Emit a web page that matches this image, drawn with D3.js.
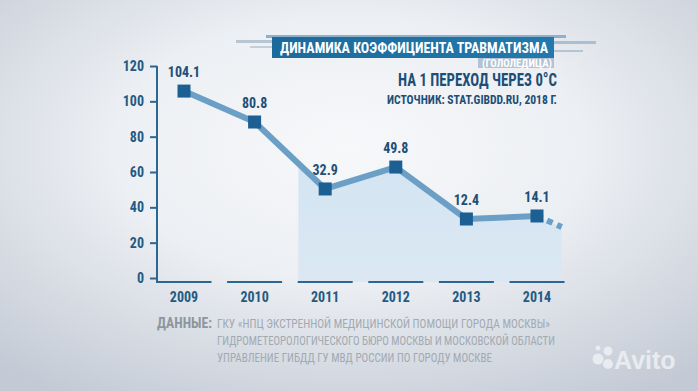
<!DOCTYPE html>
<html><head><meta charset="utf-8">
<script src="https://cdn.jsdelivr.net/npm/d3@7"></script>
<style>
html,body{margin:0;padding:0;overflow:hidden;background:#e3e7ed;}
svg{display:block;}
</style></head>
<body>
<svg id="c" width="698" height="391"></svg>
<script>
const years = ["2009","2010","2011","2012","2013","2014"];
const values = [105.8, 88.3, 50.4, 62.8, 33.4, 35.1];
const valueLabels = ["104.1","80.8","32.9","49.8","12.4","14.1"];
const tailValue = 28.9;
const yTicks = [0,20,40,60,80,100,120];
const titleText = "ДИНАМИКА КОЭФФИЦИЕНТА ТРАВМАТИЗМА";
const subTitle = "(ГОЛОЛЕДИЦА)";
const unitText = "НА 1 ПЕРЕХОД ЧЕРЕЗ 0°C";
const sourceText = "ИСТОЧНИК: STAT.GIBDD.RU, 2018 Г.";
const dataHead = "ДАННЫЕ:";
const dataLines = [
  "ГКУ «НПЦ ЭКСТРЕННОЙ МЕДИЦИНСКОЙ ПОМОЩИ ГОРОДА МОСКВЫ»",
  "ГИДРОМЕТЕОРОЛОГИЧЕСКОГО БЮРО МОСКВЫ И МОСКОВСКОЙ ОБЛАСТИ",
  "УПРАВЛЕНИЕ ГИБДД ГУ МВД РОССИИ ПО ГОРОДУ МОСКВЕ"
];

const FONT = "'Liberation Sans Narrow','Roboto Condensed','Liberation Sans',sans-serif";
const svg = d3.select("#c");
const W = 698, H = 391;
const defs = svg.append("defs");
function fit(sel, w){ sel.attr("textLength", w).attr("lengthAdjust","spacingAndGlyphs"); return sel; }

// background
const bg = defs.append("radialGradient").attr("id","bg")
  .attr("cx","0.5").attr("cy","0.38").attr("r","0.75");
bg.append("stop").attr("offset","0").attr("stop-color","#f7f8fa");
bg.append("stop").attr("offset","0.45").attr("stop-color","#eceff3");
bg.append("stop").attr("offset","1").attr("stop-color","#c3cad5");
svg.append("rect").attr("width",W).attr("height",H).attr("fill","url(#bg)");

const x = d3.scalePoint().domain(years).range([184, 537]);
const y = d3.scaleLinear().domain([0,120]).range([278, 66]);
const step = x.step();

// decorative title stripes
const tg = svg.append("g");
tg.append("rect").attr("x",236).attr("y",40).attr("width",36).attr("height",3).attr("fill","#b8c6d4");
tg.append("rect").attr("x",250).attr("y",46).attr("width",22).attr("height",2).attr("fill","#c3cfdb");
tg.append("rect").attr("x",266).attr("y",35).attr("width",300).attr("height",3).attr("fill","#8fb0cb");
tg.append("rect").attr("x",548).attr("y",41).attr("width",48).attr("height",3).attr("fill","#a9bfd2");
tg.append("rect").attr("x",553).attr("y",50).attr("width",30).attr("height",2).attr("fill","#b4c6d6");
const tgrad = defs.append("linearGradient").attr("id","tg").attr("x1",0).attr("x2",1);
tgrad.append("stop").attr("offset",0).attr("stop-color","#1c6a9b");
tgrad.append("stop").attr("offset",1).attr("stop-color","#2379ad");
tg.append("rect").attr("x",272).attr("y",37).attr("width",282).attr("height",21).attr("fill","url(#tg)");
fit(tg.append("text").attr("x",280).attr("y",53)
  .attr("font-family",FONT).attr("font-weight","bold").attr("font-size",15.5)
  .attr("fill","#ffffff").text(titleText), 268);
tg.append("rect").attr("x",478).attr("y",58).attr("width",76).attr("height",10).attr("fill","#b3c3d3");
fit(tg.append("text").attr("x",482).attr("y",67)
  .attr("font-family",FONT).attr("font-weight","bold").attr("font-size",10.5)
  .attr("fill","#ffffff").text(subTitle), 70);
fit(tg.append("text").attr("x",398).attr("y",86)
  .attr("font-family",FONT).attr("font-weight","bold").attr("font-size",17.5)
  .attr("fill","#1c4f78").text(unitText), 159);
fit(tg.append("text").attr("x",387).attr("y",104)
  .attr("font-family",FONT).attr("font-weight","bold").attr("font-size",12)
  .attr("fill","#1c4f78").text(sourceText), 170);

// area
const pts = years.map((d,i)=>[x(d), y(values[i])]);
const tailPt = [x(years[5]) + step*0.35, y(tailValue)];
const areaPts = pts.concat([tailPt]);
defs.append("clipPath").attr("id","ac").append("rect")
  .attr("x", x(years[2]) - step*0.38).attr("y",0)
  .attr("width", tailPt[0] - (x(years[2]) - step*0.38)).attr("height",H);
const agrad = defs.append("linearGradient").attr("id","ag").attr("x1",0).attr("x2",0).attr("y1",0).attr("y2",1);
agrad.append("stop").attr("offset",0).attr("stop-color","#cfe2f1");
agrad.append("stop").attr("offset",1).attr("stop-color","#dbe8f3");
svg.append("path").attr("clip-path","url(#ac)")
  .attr("d", d3.area().x(d=>d[0]).y0(y(0)+4).y1(d=>d[1])(areaPts))
  .attr("fill","url(#ag)");

// axis
const axisColor = "#2b6790";
const ag = svg.append("g").attr("transform","translate(157,0)");
ag.call(d3.axisLeft(y).tickValues(yTicks).tickSize(7).tickPadding(6))
  .call(g=>g.select(".domain").remove())
  .call(g=>g.selectAll("line").attr("stroke",axisColor).attr("stroke-width",2))
  .call(g=>g.selectAll("text").attr("font-family",FONT).attr("font-weight","bold")
    .attr("font-size",14).attr("fill","#245a82"));
svg.append("line").attr("x1",157).attr("x2",157).attr("y1",y(120)).attr("y2",y(0)+4)
  .attr("stroke",axisColor).attr("stroke-width",2);

// x segments
const segW = 55;
svg.append("g").selectAll("line").data(years).join("line")
  .attr("x1",(d,i)=> i===0 ? 156 : x(d)-segW/2)
  .attr("x2",d=>x(d)+segW/2)
  .attr("y1",y(0)+4).attr("y2",y(0)+4)
  .attr("stroke",axisColor).attr("stroke-width",2);
svg.append("g").selectAll("text").data(years).join("text")
  .attr("x",d=>x(d)).attr("y",302).attr("text-anchor","middle")
  .attr("font-family",FONT).attr("font-weight","bold").attr("font-size",14)
  .attr("fill","#245a82").text(d=>d);

// line
svg.append("path").attr("d", d3.line()(pts)).attr("fill","none")
  .attr("stroke","#6b9fc5").attr("stroke-width",6).attr("stroke-linejoin","round");
svg.append("path").attr("d", d3.line()([pts[5], tailPt])).attr("fill","none")
  .attr("stroke","#6b9fc5").attr("stroke-width",6).attr("stroke-dasharray","6,5");

// markers
const ms = 13;
svg.append("g").selectAll("rect").data(pts).join("rect")
  .attr("x",d=>d[0]-ms/2).attr("y",d=>d[1]-ms/2).attr("width",ms).attr("height",ms)
  .attr("fill","#1b5f93");
svg.append("g").selectAll("text").data(pts).join("text")
  .attr("x",d=>d[0]).attr("y",d=>d[1]-14).attr("text-anchor","middle")
  .attr("font-family",FONT).attr("font-weight","bold").attr("font-size",14)
  .attr("fill","#1f4f76").text((d,i)=>valueLabels[i]);

// footer
fit(svg.append("text").attr("x",157).attr("y",328)
  .attr("font-family",FONT).attr("font-weight","bold").attr("font-size",14)
  .attr("fill","#8d959e").text(dataHead), 55);
const footW = [333, 338, 275];
svg.append("g").selectAll("text").data(dataLines).join("text")
  .attr("x",217).attr("y",(d,i)=>328+i*17)
  .attr("font-family",FONT).attr("font-size",13)
  .attr("fill","#a2a9b1").text(d=>d)
  .attr("textLength",(d,i)=>footW[i]).attr("lengthAdjust","spacingAndGlyphs");

// watermark
const wm = svg.append("g").attr("opacity",0.85);
[[598,359,5.5],[608,351,4.5],[608,364,5],[598,348,2.5]].forEach(c=>
  wm.append("circle").attr("cx",c[0]).attr("cy",c[1]).attr("r",c[2]).attr("fill","#eef0f3"));
wm.append("text").attr("x",614).attr("y",369).attr("font-family","'Liberation Sans',sans-serif")
  .attr("font-weight","bold").attr("font-size",25).attr("fill","#eef0f3").text("Avito");
</script>
</body></html>
